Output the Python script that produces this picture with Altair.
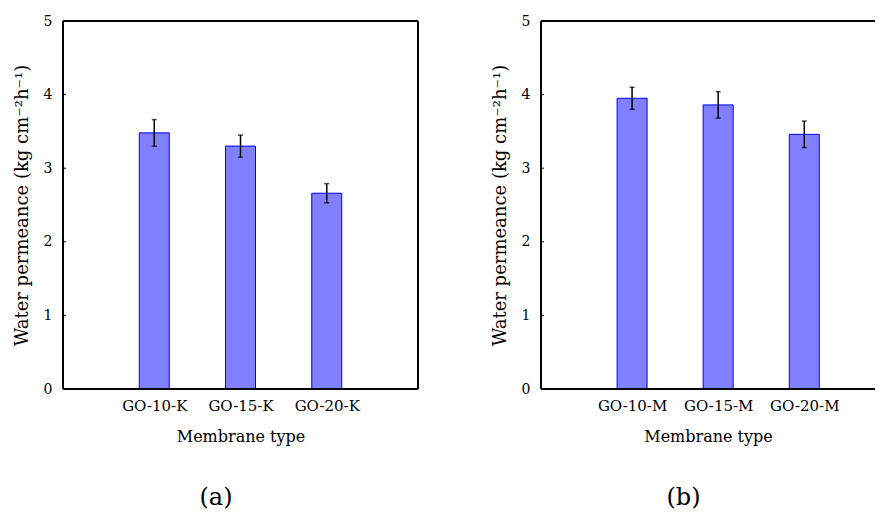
import altair as alt
import pandas as pd

positions = [1, 2, 3]
cats_a = ["GO-10-K", "GO-15-K", "GO-20-K"]
vals_a = [3.48, 3.30, 2.66]
errs_a = [0.18, 0.15, 0.13]

cats_b = ["GO-10-M", "GO-15-M", "GO-20-M"]
vals_b = [3.95, 3.86, 3.46]
errs_b = [0.15, 0.18, 0.18]

y_ticks = [0, 1, 2, 3, 4, 5]
FONT = "DejaVu Serif"
H = 368
W_A = 355
W_B = 334          # right panel is cut at the page edge, as in the reference
SLOT = W_A / 4.0   # pixels per category slot


def panel(cats, vals, errs, label, width, right_border):
    df = pd.DataFrame({
        "pos": positions,
        "cat": cats,
        "val": vals,
        "lo": [v - e for v, e in zip(vals, errs)],
        "hi": [v + e for v, e in zip(vals, errs)],
    })
    label_expr = "[''," + ",".join(f"'{c}'" for c in cats) + ",''][datum.value]"
    xscale = alt.Scale(domain=[0, width / SLOT], nice=False, zero=False)
    xenc = alt.X(
        "pos:Q", scale=xscale,
        axis=alt.Axis(values=positions, labelExpr=label_expr,
                      title="Membrane type"),
    )
    yscale = alt.Scale(domain=[0, 5], nice=False)
    yenc = alt.Y(
        "val:Q", scale=yscale,
        axis=alt.Axis(values=y_ticks, format="d",
                      title="Water permeance (kg cm⁻²h⁻¹)"),
    )
    base = alt.Chart(df)
    bars = base.mark_bar(size=30, fill="#8080ff", stroke="#0000ff",
                         strokeWidth=1).encode(x=xenc, y=yenc)
    rule = base.mark_rule(color="#000", strokeWidth=1.5).encode(
        x=alt.X("pos:Q", scale=xscale),
        y=alt.Y("lo:Q", scale=yscale), y2="hi:Q")
    cap_lo = base.mark_tick(color="#000", thickness=1.5, size=5,
                            orient="horizontal").encode(
        x=alt.X("pos:Q", scale=xscale),
        y=alt.Y("lo:Q", scale=yscale))
    cap_hi = base.mark_tick(color="#000", thickness=1.5, size=5,
                            orient="horizontal").encode(
        x=alt.X("pos:Q", scale=xscale),
        y=alt.Y("hi:Q", scale=yscale))
    tdf = pd.DataFrame({"t": y_ticks[1:-1]})
    ticks = alt.Chart(tdf).mark_rule(color="#000", strokeWidth=1).encode(
        y=alt.Y("t:Q", scale=yscale), x=alt.value(0), x2=alt.value(3))
    # frame lines
    fr = dict(color="#000", strokeWidth=1.8)
    top = alt.Chart(tdf).mark_rule(**fr).encode(
        x=alt.value(0), x2=alt.value(width), y=alt.value(0))
    bottom = alt.Chart(tdf).mark_rule(**fr).encode(
        x=alt.value(0), x2=alt.value(width), y=alt.value(H))
    left = alt.Chart(tdf).mark_rule(**fr).encode(
        x=alt.value(0), y=alt.value(0), y2=alt.value(H))
    layers = [bars, rule, cap_lo, cap_hi, ticks, top, bottom, left]
    if right_border:
        layers.append(alt.Chart(tdf).mark_rule(**fr).encode(
            x=alt.value(width), y=alt.value(0), y2=alt.value(H)))
    return alt.layer(*layers).properties(
        width=width, height=H,
        title=alt.TitleParams(label, orient="bottom", anchor="middle",
                              frame="bounds", font=FONT, fontSize=24,
                              fontWeight="normal", color="#000", offset=42),
    )


chart = alt.hconcat(
    panel(cats_a, vals_a, errs_a, "(a)", W_A, True),
    panel(cats_b, vals_b, errs_b, "(b)", W_B, False),
    spacing=72,
).properties(
    background="white",
    padding={"left": 5, "top": 6, "right": 0, "bottom": 0},
).configure_view(stroke=None).configure_axis(
    ticks=False, domain=False, grid=False,
    labelFont=FONT, titleFont=FONT, titleFontWeight="normal",
    labelColor="#000", titleColor="#000",
).configure_axisX(
    labelPadding=9, titlePadding=15, labelFontSize=15, titleFontSize=16,
).configure_axisY(
    labelPadding=11, titlePadding=12, labelFontSize=14, titleFontSize=18,
)

chart.save("out.html", embed_options={"renderer": "svg", "actions": False})
